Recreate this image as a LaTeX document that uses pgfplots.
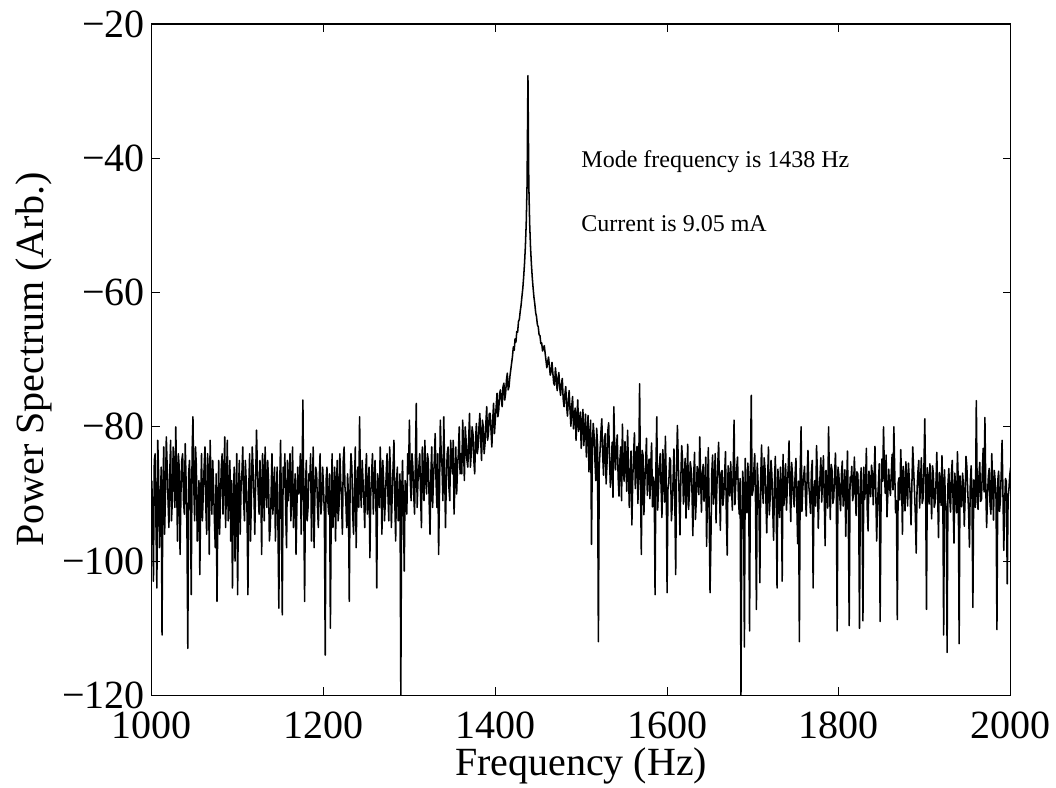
\documentclass[border=0pt]{standalone}
\usepackage{pgfplots}
\pgfplotsset{compat=1.18}
\usepackage{fontspec}
\setmainfont{Liberation Serif}
\begin{document}
\begin{tikzpicture}
\path[use as bounding box] (-113.8pt,-69.4pt) rectangle (678.25pt,521.6pt);
\begin{axis}[
  scale only axis,
  width=644.25pt, height=503.6pt,
  xmin=1000, xmax=2000, ymin=-120, ymax=-20,
  xtick={1000,1200,1400,1600,1800,2000},
  xticklabels={1000,1200,1400,1600,1800,2000},
  ytick={-120,-100,-80,-60,-40,-20},
  yticklabels={−120,−100,−80,−60,−40,−20},
  tick label style={font=\fontsize{30}{36}\selectfont},
  xticklabel style={inner sep=0pt, yshift=-12pt},
  yticklabel style={inner sep=0pt, xshift=-5pt},
  major tick length=6pt,
  tick style={black, line width=0.6pt},
  axis line style={black, line width=0.9pt},
  xlabel={Frequency (Hz)},
  ylabel={Power Spectrum (Arb.)},
  label style={font=\fontsize{30}{36}\selectfont},
  xlabel style={at={(axis description cs:0.5,-0.1193)}, anchor=base, inner sep=0pt},
  ylabel style={at={(axis description cs:-0.1265,0.5)}, anchor=base, inner sep=0pt, rotate=0},
  clip=true,
]
\addplot[black, line width=1.15pt, line join=round] table[row sep=\\] {
x y\\
1000 -88\\ 1001 -92\\ 1002 -103\\ 1003 -85\\ 1004 -84\\ 1005 -95\\ 1006 -104\\ 1007 -82\\ 1008 -87\\ 1009 -98\\ 1010 -93\\ 1011 -86\\ 1012 -111\\ 1013 -89\\ 1014 -83\\ 1015 -96\\ 1016 -90\\ 1017 -81.5\\ 1018 -86\\ 1019 -91\\
1020 -95\\ 1021 -87\\ 1022 -82\\ 1023 -94\\ 1024 -91\\ 1025 -83\\ 1026 -87\\ 1027 -92\\ 1028 -80\\ 1029 -88\\ 1030 -97\\ 1031 -84\\ 1032 -86\\ 1033 -99\\ 1034 -90\\ 1035 -85\\ 1036 -84\\ 1037 -91\\ 1038 -93\\ 1039 -82.5\\
1040 -88\\ 1041 -95\\ 1042 -113\\ 1043 -87\\ 1044 -85\\ 1045 -90\\ 1046 -105\\ 1047 -84\\ 1048 -78.5\\ 1049 -89\\ 1050 -94\\ 1051 -83\\ 1052 -86\\ 1053 -97\\ 1054 -92\\ 1055 -88\\ 1056 -102\\ 1057 -91\\ 1058 -84\\ 1059 -94\\
1060 -90\\ 1061 -86\\ 1062 -83\\ 1063 -92\\ 1064 -96\\ 1065 -84\\ 1066 -87\\ 1067 -99\\ 1068 -82\\ 1069 -88\\ 1070 -93\\ 1071 -85\\ 1072 -89\\ 1073 -94\\ 1074 -98\\ 1075 -87\\ 1076 -106\\ 1077 -92\\ 1078 -85\\ 1079 -96\\
1080 -91\\ 1081 -86\\ 1082 -84\\ 1083 -93\\ 1084 -88\\ 1085 -81.5\\ 1086 -95\\ 1087 -89\\ 1088 -82\\ 1089 -94\\ 1090 -90\\ 1091 -85\\ 1092 -97\\ 1093 -88\\ 1094 -104\\ 1095 -91\\ 1096 -86\\ 1097 -100\\ 1098 -92\\ 1099 -84\\
1100 -105\\ 1101 -90\\ 1102 -85\\ 1103 -96\\ 1104 -89\\ 1105 -87\\ 1106 -83\\ 1107 -91\\ 1108 -94\\ 1109 -85\\ 1110 -88\\ 1111 -93\\ 1112 -105\\ 1113 -89\\ 1114 -84\\ 1115 -97\\ 1116 -91\\ 1117 -83\\ 1118 -86\\ 1119 -90\\
1120 -96\\ 1121 -88\\ 1122 -80.5\\ 1123 -86\\ 1124 -90\\ 1125 -93\\ 1126 -85\\ 1127 -89\\ 1128 -99\\ 1129 -84\\ 1130 -87\\ 1131 -94\\ 1132 -83\\ 1133 -88\\ 1134 -92\\ 1135 -85\\ 1136 -88\\ 1137 -97\\ 1138 -95\\ 1139 -90\\
1140 -84\\ 1141 -93\\ 1142 -90\\ 1143 -86\\ 1144 -97\\ 1145 -91\\ 1146 -86\\ 1147 -95\\ 1148 -107\\ 1149 -89\\ 1150 -82\\ 1151 -92\\ 1152 -108\\ 1153 -86\\ 1154 -89\\ 1155 -84\\ 1156 -93\\ 1157 -98\\ 1158 -85\\ 1159 -91\\
1160 -88\\ 1161 -84\\ 1162 -94\\ 1163 -89\\ 1164 -83\\ 1165 -95\\ 1166 -91\\ 1167 -87\\ 1168 -99\\ 1169 -92\\ 1170 -86\\ 1171 -90\\ 1172 -89\\ 1173 -84\\ 1174 -96\\ 1175 -88\\ 1176 -76\\ 1177 -91\\ 1178 -106\\ 1179 -89\\
1180 -85\\ 1181 -94\\ 1182 -92\\ 1183 -87\\ 1184 -88\\ 1185 -84\\ 1186 -97\\ 1187 -90\\ 1188 -83\\ 1189 -98\\ 1190 -90\\ 1191 -86\\ 1192 -87\\ 1193 -92\\ 1194 -95\\ 1195 -88\\ 1196 -84\\ 1197 -93\\ 1198 -91\\ 1199 -86\\
1200 -89\\ 1201 -93\\ 1202 -114\\ 1203 -88\\ 1204 -86\\ 1205 -91\\ 1206 -93\\ 1207 -87\\ 1208 -110\\ 1209 -92\\ 1210 -84\\ 1211 -95\\ 1212 -90\\ 1213 -86\\ 1214 -97\\ 1215 -89\\ 1216 -85\\ 1217 -94\\ 1218 -92\\ 1219 -84\\
1220 -88\\ 1221 -91\\ 1222 -96\\ 1223 -85\\ 1224 -83\\ 1225 -89\\ 1226 -91\\ 1227 -95\\ 1228 -87\\ 1229 -90\\ 1230 -106\\ 1231 -88\\ 1232 -84\\ 1233 -86\\ 1234 -93\\ 1235 -96\\ 1236 -89\\ 1237 -83\\ 1238 -98\\ 1239 -90\\
1240 -86\\ 1241 -92\\ 1242 -78.5\\ 1243 -89\\ 1244 -92\\ 1245 -85\\ 1246 -88\\ 1247 -91\\ 1248 -95\\ 1249 -87\\ 1250 -84\\ 1251 -93\\ 1252 -90\\ 1253 -86\\ 1254 -99.5\\ 1255 -90\\ 1256 -87\\ 1257 -84\\ 1258 -93\\ 1259 -88\\
1260 -85\\ 1261 -91\\ 1262 -104\\ 1263 -87\\ 1264 -89\\ 1265 -92\\ 1266 -83\\ 1267 -88\\ 1268 -96\\ 1269 -85\\ 1270 -88\\ 1271 -94\\ 1272 -91\\ 1273 -87\\ 1274 -84\\ 1275 -90\\ 1276 -94\\ 1277 -83\\ 1278 -87\\ 1279 -95\\
1280 -90\\ 1281 -86\\ 1282 -82\\ 1283 -91\\ 1284 -97\\ 1285 -88\\ 1286 -86\\ 1287 -94\\ 1288 -92\\ 1289 -87\\ 1290 -120\\ 1291 -90\\ 1292 -85\\ 1293 -92\\ 1294 -101.5\\ 1295 -88\\ 1296 -89\\ 1297 -93\\ 1298 -84\\ 1299 -87\\
1300 -79\\ 1301 -88\\ 1302 -91\\ 1303 -84\\ 1304 -86\\ 1305 -90\\ 1306 -93\\ 1307 -85\\ 1308 -76.5\\ 1309 -92\\ 1310 -88\\ 1311 -86\\ 1312 -84\\ 1313 -90\\ 1314 -95\\ 1315 -83\\ 1316 -87\\ 1317 -91\\ 1318 -82\\ 1319 -88\\
1320 -90\\ 1321 -84\\ 1322 -85\\ 1323 -91\\ 1324 -96\\ 1325 -87\\ 1326 -83\\ 1327 -92\\ 1328 -88\\ 1329 -85\\ 1330 -81\\ 1331 -88\\ 1332 -92\\ 1333 -84\\ 1334 -99\\ 1335 -90\\ 1336 -79\\ 1337 -84\\ 1338 -86\\ 1339 -91\\
1340 -78.5\\ 1341 -86\\ 1342 -95\\ 1343 -88\\ 1344 -84\\ 1345 -83\\ 1346 -89\\ 1347 -91\\ 1348 -82\\ 1349 -85\\ 1350 -87\\ 1351 -82\\ 1352 -93\\ 1353 -88\\ 1354 -83\\ 1355 -90\\ 1356 -86\\ 1357 -84\\ 1358 -80\\ 1359 -87\\
1360 -84\\ 1361 -87\\ 1362 -79\\ 1363 -83\\ 1364 -88\\ 1365 -80\\ 1366 -82\\ 1367 -85\\ 1368 -86\\ 1369 -82\\ 1370 -78\\ 1371 -86\\ 1372 -84\\ 1373 -80\\ 1374 -81\\ 1375 -85\\ 1376 -87\\ 1377 -82\\ 1378 -79.5\\ 1379 -84\\
1380 -83\\ 1381 -80\\ 1382 -78\\ 1383 -82\\ 1384 -85\\ 1385 -79\\ 1386 -80\\ 1387 -84\\ 1388 -82.5\\ 1389 -79.5\\ 1390 -77\\ 1391 -82\\ 1392 -81\\ 1393 -78\\ 1394 -78\\ 1395 -80.5\\ 1396 -83\\ 1397 -79\\ 1398 -76.5\\ 1399 -81\\
1400 -79\\ 1401 -77\\ 1402 -75\\ 1403 -78.5\\ 1404 -77.5\\ 1405 -75\\ 1406 -74.5\\ 1407 -76\\ 1408 -77\\ 1409 -74\\ 1410 -73.5\\ 1411 -76\\ 1412 -75\\ 1413 -73\\ 1414 -72\\ 1415 -74.5\\ 1416 -74\\ 1417 -72.5\\ 1418 -71.5\\ 1419 -70.5\\
1420 -69.5\\ 1421 -68.1\\ 1422 -68.6\\ 1423 -66.9\\ 1424 -67.4\\ 1425 -65.8\\ 1426 -65.9\\ 1427 -64.3\\ 1428 -64.0\\ 1429 -62.8\\ 1430 -61.9\\ 1431 -60.6\\ 1432 -59.4\\ 1433 -57.7\\ 1434 -55.7\\ 1435 -53.2\\ 1436 -49.7\\ 1437 -43.8\\ 1438 -27.7\\ 1439 -43.8\\
1440 -49.7\\ 1441 -53.2\\ 1442 -55.7\\ 1443 -57.7\\ 1444 -59.3\\ 1445 -60.7\\ 1446 -61.7\\ 1447 -63.0\\ 1448 -63.6\\ 1449 -64.8\\ 1450 -65.1\\ 1451 -66.3\\ 1452 -66.4\\ 1453 -67.6\\ 1454 -67.5\\ 1455 -68.7\\ 1456 -68.4\\ 1457 -67.9\\ 1458 -69.0\\ 1459 -70.1\\
1460 -71.2\\ 1461 -70.3\\ 1462 -69.6\\ 1463 -71.0\\ 1464 -72.3\\ 1465 -71.8\\ 1466 -70.4\\ 1467 -72.0\\ 1468 -73.5\\ 1469 -73.8\\ 1470 -71.2\\ 1471 -72.6\\ 1472 -74.6\\ 1473 -73.0\\ 1474 -71.9\\ 1475 -74.2\\ 1476 -75.3\\ 1477 -73.6\\ 1478 -72.8\\ 1479 -75.8\\
1480 -77.0\\ 1481 -75.2\\ 1482 -74.0\\ 1483 -76.8\\ 1484 -78.4\\ 1485 -76.1\\ 1486 -74.6\\ 1487 -77.5\\ 1488 -79.9\\ 1489 -76.9\\ 1490 -75.5\\ 1491 -80.3\\ 1492 -78.6\\ 1493 -77.2\\ 1494 -82.0\\ 1495 -79.0\\ 1496 -76.0\\ 1497 -80.7\\ 1498 -79.0\\ 1499 -77.8\\
1500 -83.2\\ 1501 -79.6\\ 1502 -77.4\\ 1503 -82.8\\ 1504 -80.6\\ 1505 -78.1\\ 1506 -84.5\\ 1507 -80.9\\ 1508 -78.3\\ 1509 -86.7\\ 1510 -81.9\\ 1511 -79.0\\ 1512 -97.5\\ 1513 -83.4\\ 1514 -79.5\\ 1515 -81.2\\ 1516 -85.0\\ 1517 -88.0\\ 1518 -80.2\\ 1519 -82.6\\
1520 -112\\ 1521 -86.0\\ 1522 -83.5\\ 1523 -80.7\\ 1524 -78.8\\ 1525 -84.1\\ 1526 -87.2\\ 1527 -82.0\\ 1528 -81.0\\ 1529 -88.5\\ 1530 -85.6\\ 1531 -80.6\\ 1532 -79.4\\ 1533 -84.9\\ 1534 -89.0\\ 1535 -86.2\\ 1536 -82.3\\ 1537 -90.5\\ 1538 -77.0\\ 1539 -83.1\\
1540 -86.4\\ 1541 -83.0\\ 1542 -81.2\\ 1543 -87.5\\ 1544 -90.3\\ 1545 -85.1\\ 1546 -83.0\\ 1547 -91.0\\ 1548 -79.6\\ 1549 -86.4\\ 1550 -88.1\\ 1551 -82.2\\ 1552 -84.7\\ 1553 -89.6\\ 1554 -80.5\\ 1555 -85.9\\ 1556 -92.0\\ 1557 -87.8\\ 1558 -83.6\\ 1559 -94.6\\
1560 -87.9\\ 1561 -84.0\\ 1562 -80.9\\ 1563 -89.2\\ 1564 -85.3\\ 1565 -82.9\\ 1566 -91.4\\ 1567 -86.3\\ 1568 -73.6\\ 1569 -88.0\\ 1570 -99\\ 1571 -83.5\\ 1572 -84.2\\ 1573 -93.1\\ 1574 -88.6\\ 1575 -85.4\\ 1576 -81.7\\ 1577 -90.2\\ 1578 -86.9\\ 1579 -84.8\\
1580 -90.7\\ 1581 -85.6\\ 1582 -82.4\\ 1583 -91.9\\ 1584 -87.5\\ 1585 -88.3\\ 1586 -105\\ 1587 -86.0\\ 1588 -78.5\\ 1589 -92.4\\ 1590 -89.2\\ 1591 -85.7\\ 1592 -84.0\\ 1593 -88.9\\ 1594 -93.5\\ 1595 -83.4\\ 1596 -86.1\\ 1597 -91.2\\ 1598 -81.4\\ 1599 -87.6\\
1600 -104.7\\ 1601 -89.3\\ 1602 -88.4\\ 1603 -84.6\\ 1604 -85.0\\ 1605 -94.0\\ 1606 -91.8\\ 1607 -87.9\\ 1608 -83.3\\ 1609 -90.8\\ 1610 -102\\ 1611 -86.2\\ 1612 -79.8\\ 1613 -85.1\\ 1614 -90.2\\ 1615 -96.1\\ 1616 -87.7\\ 1617 -82.8\\ 1618 -84.9\\ 1619 -91.5\\
1620 -88.1\\ 1621 -84.7\\ 1622 -93.6\\ 1623 -88.0\\ 1624 -82.6\\ 1625 -92.3\\ 1626 -89.9\\ 1627 -85.2\\ 1628 -86.3\\ 1629 -89.7\\ 1630 -96.2\\ 1631 -87.1\\ 1632 -83.8\\ 1633 -93.8\\ 1634 -90.9\\ 1635 -85.9\\ 1636 -87.4\\ 1637 -90.1\\ 1638 -81.5\\ 1639 -87.3\\
1640 -92.7\\ 1641 -87.2\\ 1642 -85.6\\ 1643 -91.1\\ 1644 -89.2\\ 1645 -84.5\\ 1646 -97.8\\ 1647 -89.8\\ 1648 -83.1\\ 1649 -92.6\\ 1650 -104.7\\ 1651 -97.0\\ 1652 -86.9\\ 1653 -84.2\\ 1654 -91.5\\ 1655 -88.5\\ 1656 -84.0\\ 1657 -94.3\\ 1658 -88.7\\ 1659 -85.6\\
1660 -82.3\\ 1661 -89.0\\ 1662 -95.4\\ 1663 -86.8\\ 1664 -86.5\\ 1665 -91.7\\ 1666 -90.1\\ 1667 -87.0\\ 1668 -83.7\\ 1669 -93.4\\ 1670 -99.1\\ 1671 -85.8\\ 1672 -87.8\\ 1673 -90.3\\ 1674 -85.2\\ 1675 -88.9\\ 1676 -92.4\\ 1677 -86.1\\ 1678 -79.0\\ 1679 -91.6\\
1680 -88.3\\ 1681 -86.2\\ 1682 -84.5\\ 1683 -90.5\\ 1684 -93.0\\ 1685 -87.7\\ 1686 -120\\ 1687 -93.9\\ 1688 -86.6\\ 1689 -89.1\\ 1690 -112.8\\ 1691 -84.7\\ 1692 -91.0\\ 1693 -92.8\\ 1694 -85.4\\ 1695 -88.0\\ 1696 -110.4\\ 1697 -86.9\\ 1698 -75.3\\ 1699 -90.2\\
1700 -89.5\\ 1701 -86.5\\ 1702 -84.0\\ 1703 -91.6\\ 1704 -107.2\\ 1705 -85.4\\ 1706 -88.6\\ 1707 -92.0\\ 1708 -103.2\\ 1709 -87.7\\ 1710 -82.7\\ 1711 -89.4\\ 1712 -91.4\\ 1713 -84.6\\ 1714 -86.2\\ 1715 -90.6\\ 1716 -95.8\\ 1717 -88.2\\ 1718 -83.0\\ 1719 -93.1\\
1720 -90.6\\ 1721 -85.0\\ 1722 -87.1\\ 1723 -92.2\\ 1724 -96.9\\ 1725 -88.4\\ 1726 -84.4\\ 1727 -90.8\\ 1728 -104\\ 1729 -86.3\\ 1730 -89.3\\ 1731 -93.5\\ 1732 -86.0\\ 1733 -88.9\\ 1734 -103\\ 1735 -84.1\\ 1736 -91.7\\ 1737 -89.7\\ 1738 -85.5\\ 1739 -92.4\\
1740 -88.8\\ 1741 -86.1\\ 1742 -82.1\\ 1743 -89.9\\ 1744 -94.1\\ 1745 -85.3\\ 1746 -87.3\\ 1747 -90.5\\ 1748 -91.9\\ 1749 -87.2\\ 1750 -84.7\\ 1751 -91.3\\ 1752 -97.4\\ 1753 -88.1\\ 1754 -112\\ 1755 -86.4\\ 1756 -80\\ 1757 -92.6\\ 1758 -89.1\\ 1759 -87.4\\
1760 -85.9\\ 1761 -90.0\\ 1762 -93.3\\ 1763 -87.6\\ 1764 -83.5\\ 1765 -88.8\\ 1766 -90.4\\ 1767 -92.9\\ 1768 -86.8\\ 1769 -85.0\\ 1770 -104\\ 1771 -89.3\\ 1772 -88.0\\ 1773 -91.8\\ 1774 -82.8\\ 1775 -86.9\\ 1776 -95.1\\ 1777 -89.8\\ 1778 -87.5\\ 1779 -84.6\\
1780 -91.2\\ 1781 -87.8\\ 1782 -84.3\\ 1783 -90.7\\ 1784 -97.7\\ 1785 -86.5\\ 1786 -88.9\\ 1787 -92.1\\ 1788 -80\\ 1789 -88.0\\ 1790 -93.8\\ 1791 -85.6\\ 1792 -86.4\\ 1793 -91.4\\ 1794 -90.6\\ 1795 -87.3\\ 1796 -83.9\\ 1797 -89.5\\ 1798 -110.4\\ 1799 -86.0\\
1800 -87.2\\ 1801 -90.3\\ 1802 -92.5\\ 1803 -87.0\\ 1804 -85.1\\ 1805 -91.8\\ 1806 -89.7\\ 1807 -86.4\\ 1808 -96.3\\ 1809 -89.0\\ 1810 -83.6\\ 1811 -93.2\\ 1812 -109.6\\ 1813 -87.5\\ 1814 -88.2\\ 1815 -85.9\\ 1816 -91.0\\ 1817 -90.1\\ 1818 -84.5\\ 1819 -88.3\\
1820 -93.2\\ 1821 -86.7\\ 1822 -87.0\\ 1823 -90.6\\ 1824 -110\\ 1825 -88.2\\ 1826 -86.1\\ 1827 -91.9\\ 1828 -108.9\\ 1829 -86.0\\ 1830 -90.8\\ 1831 -88.9\\ 1832 -83.2\\ 1833 -92.3\\ 1834 -95.5\\ 1835 -86.6\\ 1836 -88.4\\ 1837 -90.4\\ 1838 -85.7\\ 1839 -87.1\\
1840 -91.6\\ 1841 -87.4\\ 1842 -82.9\\ 1843 -89.8\\ 1844 -97.0\\ 1845 -91.2\\ 1846 -88.6\\ 1847 -85.5\\ 1848 -109\\ 1849 -92.7\\ 1850 -84.8\\ 1851 -88.1\\ 1852 -80\\ 1853 -86.9\\ 1854 -89.9\\ 1855 -84.2\\ 1856 -93.4\\ 1857 -90.0\\ 1858 -86.3\\ 1859 -88.8\\
1860 -90.2\\ 1861 -87.0\\ 1862 -84.1\\ 1863 -89.4\\ 1864 -80\\ 1865 -86.5\\ 1866 -92.8\\ 1867 -91.0\\ 1868 -108.7\\ 1869 -88.4\\ 1870 -87.6\\ 1871 -90.9\\ 1872 -83.4\\ 1873 -87.7\\ 1874 -96.0\\ 1875 -85.9\\ 1876 -89.1\\ 1877 -92.5\\ 1878 -85.2\\ 1879 -88.0\\
1880 -91.8\\ 1881 -85.4\\ 1882 -87.9\\ 1883 -90.2\\ 1884 -94.6\\ 1885 -88.6\\ 1886 -83.0\\ 1887 -86.3\\ 1888 -89.5\\ 1889 -93.0\\ 1890 -98.8\\ 1891 -89.3\\ 1892 -86.7\\ 1893 -85.0\\ 1894 -92.1\\ 1895 -88.7\\ 1896 -84.6\\ 1897 -91.4\\ 1898 -90.7\\ 1899 -86.2\\
1900 -78.8\\ 1901 -88.9\\ 1902 -107.2\\ 1903 -86.1\\ 1904 -88.2\\ 1905 -91.5\\ 1906 -85.5\\ 1907 -89.2\\ 1908 -93.7\\ 1909 -85.8\\ 1910 -87.0\\ 1911 -92.0\\ 1912 -91.3\\ 1913 -88.5\\ 1914 -83.8\\ 1915 -90.1\\ 1916 -96.5\\ 1917 -86.8\\ 1918 -88.0\\ 1919 -91.7\\
1920 -84.3\\ 1921 -89.6\\ 1922 -111\\ 1923 -86.4\\ 1924 -90.9\\ 1925 -92.2\\ 1926 -113.6\\ 1927 -88.5\\ 1928 -86.2\\ 1929 -90.6\\ 1930 -92.7\\ 1931 -87.0\\ 1932 -85.0\\ 1933 -91.4\\ 1934 -97.3\\ 1935 -86.9\\ 1936 -89.4\\ 1937 -92.8\\ 1938 -83.7\\ 1939 -88.1\\
1940 -112.3\\ 1941 -87.3\\ 1942 -90.0\\ 1943 -91.9\\ 1944 -86.9\\ 1945 -88.7\\ 1946 -94.8\\ 1947 -90.4\\ 1948 -84.4\\ 1949 -86.0\\ 1950 -89.6\\ 1951 -92.5\\ 1952 -97.9\\ 1953 -88.3\\ 1954 -85.8\\ 1955 -90.8\\ 1956 -106.9\\ 1957 -87.9\\ 1958 -88.5\\ 1959 -92.0\\
1960 -76.1\\ 1961 -89.2\\ 1962 -92.3\\ 1963 -87.5\\ 1964 -85.3\\ 1965 -91.1\\ 1966 -90.8\\ 1967 -86.6\\ 1968 -83.2\\ 1969 -89.7\\ 1970 -78.6\\ 1971 -88.9\\ 1972 -95.0\\ 1973 -90.3\\ 1974 -87.4\\ 1975 -86.2\\ 1976 -91.6\\ 1977 -93.0\\ 1978 -84.0\\ 1979 -88.4\\
1980 -93.9\\ 1981 -86.5\\ 1982 -88.1\\ 1983 -90.9\\ 1984 -110.2\\ 1985 -88.0\\ 1986 -86.6\\ 1987 -92.6\\ 1988 -91.0\\ 1989 -86.9\\ 1990 -82\\ 1991 -89.8\\ 1992 -98.4\\ 1993 -91.3\\ 1994 -87.7\\ 1995 -88.2\\ 1996 -103.4\\ 1997 -90.5\\ 1998 -89.2\\ 1999 -87.1\\
2000 -86.0\\
};
\node[anchor=base west, inner sep=0pt, font=\fontsize{18}{22}\selectfont] at (axis cs:1500,-41.3) {Mode frequency is 1438 Hz};
\node[anchor=base west, inner sep=0pt, font=\fontsize{18}{22}\selectfont] at (axis cs:1500,-50.9) {Current is 9.05 mA};
\end{axis}
\end{tikzpicture}
\end{document}
